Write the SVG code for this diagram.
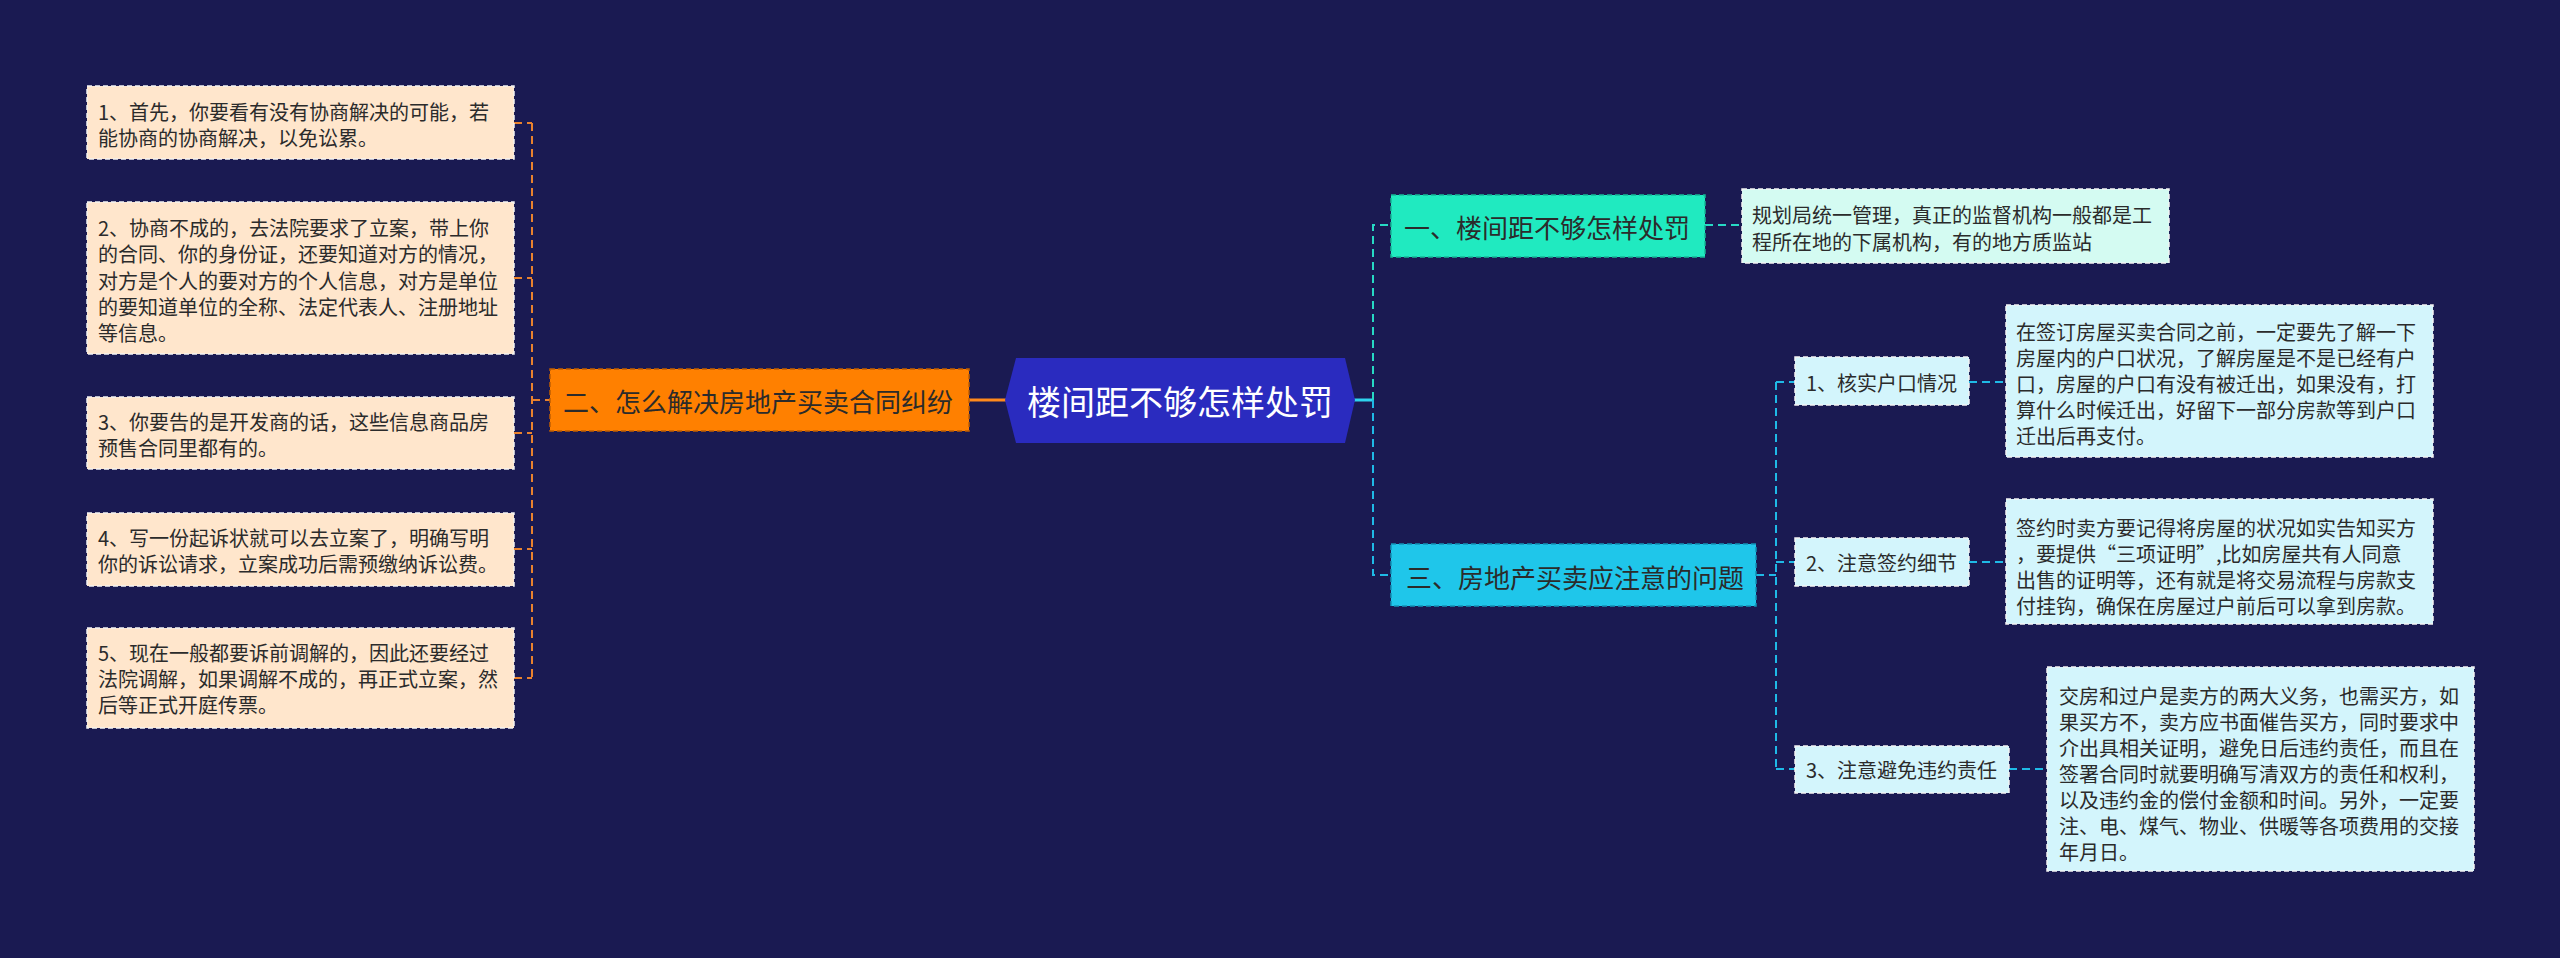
<svg xmlns="http://www.w3.org/2000/svg" width="2560" height="958" viewBox="0 0 2560 958">
<style>
text{font-family:"Noto Sans CJK SC","Noto Sans",sans-serif;fill:#2b2b2b;dominant-baseline:central}
.t20{font-size:20px}
.t26{font-size:26px}
.peach{fill:#ffe6cc;stroke:#f4f4f4;stroke-width:1.5;stroke-dasharray:5 3}
.lc{fill:#d3f5fc;stroke:#f4f4f4;stroke-width:1.5;stroke-dasharray:5 3}
.lt{fill:#d4fbf2;stroke:#f4f4f4;stroke-width:1.5;stroke-dasharray:5 3}
.dl{fill:none;stroke-width:2;stroke-dasharray:8 5}
</style>
<rect x="0" y="0" width="2560" height="958" fill="#1a1a52"/>
<g id="connectors">
<path class="dl" stroke="#e9822e" d="M514 123H532M514 278H532M514 433H532M514 549H532M514 678H532M532 123V678M532 400H550"/>
<path d="M969 400H1006" stroke="#ff8a1c" stroke-width="3" fill="none"/>
<path d="M1354 400H1373" stroke="#2ed3ee" stroke-width="3" fill="none"/>
<path class="dl" stroke="#27d9c4" d="M1373 400V225H1391M1705 225H1742"/>
<path class="dl" stroke="#1fb9e6" d="M1373 400V575H1391M1756 575H1776M1776 382V769M1776 382H1795M1776 562H1795M1776 769H1795M1969 382H2006M1969 562H2006M2009 769H2047"/>
</g>
<g id="center">
<path d="M1016 358H1345L1355 400L1345 443H1016L1005 400Z" fill="#2a2bbf"/>
<text x="1180" y="400" font-size="34" text-anchor="middle" style="fill:#ffffff">楼间距不够怎样处罚</text>
</g>
<g id="n2">
<rect x="550" y="369" width="419" height="62" fill="#ff8000" stroke="#c05e00" stroke-width="1.5" stroke-dasharray="5 3"/>
<text class="t26" x="563" y="400">二、怎么解决房地产买卖合同纠纷</text>
</g>
<g id="n2-1">
<rect class="peach" x="87" y="86" width="427" height="73"/>
<text class="t20" x="98" y="111">1、首先，你要看有没有协商解决的可能，若</text>
<text class="t20" x="98" y="137">能协商的协商解决，以免讼累。</text>
</g>
<g id="n2-2">
<rect class="peach" x="87" y="202" width="427" height="152"/>
<text class="t20" x="98" y="227">2、协商不成的，去法院要求了立案，带上你</text>
<text class="t20" x="98" y="253">的合同、你的身份证，还要知道对方的情况，</text>
<text class="t20" x="98" y="280">对方是个人的要对方的个人信息，对方是单位</text>
<text class="t20" x="98" y="306">的要知道单位的全称、法定代表人、注册地址</text>
<text class="t20" x="98" y="332">等信息。</text>
</g>
<g id="n2-3">
<rect class="peach" x="87" y="397" width="427" height="72"/>
<text class="t20" x="98" y="421">3、你要告的是开发商的话，这些信息商品房</text>
<text class="t20" x="98" y="447">预售合同里都有的。</text>
</g>
<g id="n2-4">
<rect class="peach" x="87" y="513" width="427" height="73"/>
<text class="t20" x="98" y="537">4、写一份起诉状就可以去立案了，明确写明</text>
<text class="t20" x="98" y="563">你的诉讼请求，立案成功后需预缴纳诉讼费。</text>
</g>
<g id="n2-5">
<rect class="peach" x="87" y="628" width="427" height="100"/>
<text class="t20" x="98" y="652">5、现在一般都要诉前调解的，因此还要经过</text>
<text class="t20" x="98" y="678">法院调解，如果调解不成的，再正式立案，然</text>
<text class="t20" x="98" y="704">后等正式开庭传票。</text>
</g>
<g id="n1">
<rect x="1391" y="195" width="314" height="62" fill="#20eac0" stroke="#14b896" stroke-width="1.5" stroke-dasharray="5 3"/>
<text class="t26" x="1404" y="226">一、楼间距不够怎样处罚</text>
</g>
<g id="n1-1">
<rect class="lt" x="1742" y="189" width="427" height="74"/>
<text class="t20" x="1752" y="214">规划局统一管理，真正的监督机构一般都是工</text>
<text class="t20" x="1752" y="241">程所在地的下属机构，有的地方质监站</text>
</g>
<g id="n3">
<rect x="1391" y="544" width="365" height="62" fill="#1fc6ea" stroke="#1294b8" stroke-width="1.5" stroke-dasharray="5 3"/>
<text class="t26" x="1406" y="576">三、房地产买卖应注意的问题</text>
</g>
<g id="n3-1">
<rect class="lc" x="1795" y="357" width="174" height="48"/>
<text class="t20" x="1806" y="382">1、核实户口情况</text>
</g>
<g id="n3-1-1">
<rect class="lc" x="2006" y="305" width="427" height="152"/>
<text class="t20" x="2016" y="331">在签订房屋买卖合同之前，一定要先了解一下</text>
<text class="t20" x="2016" y="357">房屋内的户口状况，了解房屋是不是已经有户</text>
<text class="t20" x="2016" y="383">口，房屋的户口有没有被迁出，如果没有，打</text>
<text class="t20" x="2016" y="409">算什么时候迁出，好留下一部分房款等到户口</text>
<text class="t20" x="2016" y="435">迁出后再支付。</text>
</g>
<g id="n3-2">
<rect class="lc" x="1795" y="538" width="174" height="48"/>
<text class="t20" x="1806" y="562">2、注意签约细节</text>
</g>
<g id="n3-2-1">
<rect class="lc" x="2006" y="499" width="427" height="125"/>
<text class="t20" x="2016" y="527">签约时卖方要记得将房屋的状况如实告知买方</text>
<text class="t20" x="2016" y="553">，要提供“三项证明”,比如房屋共有人同意</text>
<text class="t20" x="2016" y="579">出售的证明等，还有就是将交易流程与房款支</text>
<text class="t20" x="2016" y="605">付挂钩，确保在房屋过户前后可以拿到房款。</text>
</g>
<g id="n3-3">
<rect class="lc" x="1795" y="746" width="214" height="47"/>
<text class="t20" x="1806" y="769">3、注意避免违约责任</text>
</g>
<g id="n3-3-1">
<rect class="lc" x="2047" y="667" width="427" height="204"/>
<text class="t20" x="2059" y="695">交房和过户是卖方的两大义务，也需买方，如</text>
<text class="t20" x="2059" y="721">果买方不，卖方应书面催告买方，同时要求中</text>
<text class="t20" x="2059" y="747">介出具相关证明，避免日后违约责任，而且在</text>
<text class="t20" x="2059" y="773">签署合同时就要明确写清双方的责任和权利，</text>
<text class="t20" x="2059" y="799">以及违约金的偿付金额和时间。另外，一定要</text>
<text class="t20" x="2059" y="825">注、电、煤气、物业、供暖等各项费用的交接</text>
<text class="t20" x="2059" y="851">年月日。</text>
</g>
</svg>
